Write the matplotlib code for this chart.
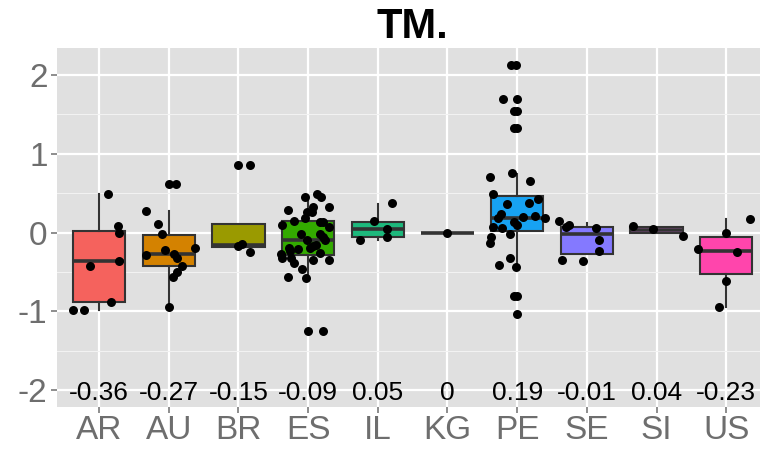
import matplotlib
matplotlib.use("Agg")
import matplotlib.pyplot as plt
from matplotlib.ticker import MultipleLocator

plt.rcParams['font.family'] = ['Liberation Sans', 'DejaVu Sans']

# ---- data ----
categories = ["AR", "AU", "BR", "ES", "IL", "KG", "PE", "SE", "SI", "US"]
median_labels = ["-0.36", "-0.27", "-0.15", "-0.09", "0.05", "0", "0.19", "-0.01", "0.04", "-0.23"]
whislo = [-0.99, -0.95, -0.19, -0.58, -0.097, 0.0, -0.426, -0.27, 0.0, -0.94]
q1     = [-0.886, -0.42, -0.19, -0.287, -0.055, 0.0, 0.021, -0.27, 0.0, -0.53]
med    = [-0.36, -0.274, -0.16, -0.089, 0.046, 0.0, 0.19, -0.013, 0.03, -0.232]
q3     = [0.02, -0.034, 0.11, 0.152, 0.135, 0.0, 0.464, 0.068, 0.072, -0.063]
whishi = [0.485, 0.27, 0.11, 0.46, 0.36, 0.0, 0.747, 0.12, 0.072, 0.17]
colors = ["#F5625D", "#D48200", "#9A9A00", "#33AA00", "#1DB87C", "#00BFC4",
          "#17A2F2", "#8479FF", "#E76BF3", "#FF45AC"]

# jittered points: (horizontal jitter offset, value) per category
pts_AR_off = [0.13, 0.27, 0.29, -0.13, 0.28, 0.17, -0.37, -0.21]
pts_AR_val = [0.49, 0.08, -0.01, -0.42, -0.36, -0.88, -0.99, -0.98]
pts_AU_off = [0.0, 0.10, -0.33, -0.16, -0.10, -0.33, -0.05, 0.07, 0.12, 0.37, 0.19, 0.12, 0.06, 0.0]
pts_AU_val = [0.62, 0.62, 0.27, 0.11, -0.025, -0.29, -0.22, -0.27, -0.32, -0.20, -0.42, -0.50, -0.57, -0.95]
pts_BR_off = [0.0, 0.16, 0.0, 0.05, 0.16]
pts_BR_val = [0.86, 0.86, -0.17, -0.14, -0.25]
pts_ES_off = [-0.05, 0.13, 0.19, 0.07, 0.30, -0.29, -0.02, 0.05, -0.05, -0.21, 0.17, 0.21,
              -0.38, 0.30, -0.10, 0.17, 0.21, 0.24, -0.02, 0.07, 0.02, 0.12, -0.14, -0.27,
              -0.26, -0.39, -0.37, -0.24, 0.17, 0.07, 0.30, -0.20, -0.09, -0.29, -0.03, 0.0, 0.22]
pts_ES_val = [0.45, 0.49, 0.45, 0.325, 0.325, 0.28, 0.26, 0.26, 0.18, 0.15, 0.135, 0.135,
              0.093, 0.07, -0.025, -0.013, -0.063, -0.09, -0.097, -0.17, -0.20, -0.16, -0.21, -0.20,
              -0.23, -0.27, -0.33, -0.32, -0.26, -0.35, -0.35, -0.39, -0.46, -0.56, -0.58, -1.25, -1.25]
pts_IL_off = [0.21, -0.05, 0.13, 0.13, -0.26]
pts_IL_val = [0.37, 0.14, 0.05, -0.055, -0.10]
pts_KG_off = [0.0]
pts_KG_val = [0.0]
pts_PE_off = [-0.09, -0.01, -0.21, 0.0, -0.05, 0.0, -0.05, 0.0, -0.39, -0.08, 0.18, -0.35,
              -0.14, 0.17, 0.30, -0.23, -0.28, 0.08, 0.25, 0.40, -0.34, -0.22, -0.05, 0.0,
              -0.11, -0.38, -0.39, -0.10, -0.26, -0.02, -0.05, 0.0, 0.0]
pts_PE_val = [2.127, 2.127, 1.70, 1.70, 1.54, 1.54, 1.325, 1.325, 0.71, 0.76, 0.65, 0.49,
              0.36, 0.37, 0.43, 0.23, 0.18, 0.20, 0.21, 0.19, 0.07, 0.063, 0.135, 0.093,
              -0.013, -0.055, -0.13, -0.33, -0.41, -0.435, -0.806, -0.806, -1.03]
pts_SE_off = [-0.40, -0.30, -0.26, 0.13, 0.17, 0.17, -0.35, -0.05]
pts_SE_val = [0.14, 0.07, 0.10, 0.063, -0.10, -0.24, -0.35, -0.36]
pts_SI_off = [-0.34, -0.05, 0.38]
pts_SI_val = [0.08, 0.04, -0.046]
pts_US_off = [0.34, 0.0, -0.40, 0.15, 0.0, -0.10]
pts_US_val = [0.173, 0.0, -0.215, -0.25, -0.62, -0.95]

point_offsets = [pts_AR_off, pts_AU_off, pts_BR_off, pts_ES_off, pts_IL_off,
                 pts_KG_off, pts_PE_off, pts_SE_off, pts_SI_off, pts_US_off]
point_values = [pts_AR_val, pts_AU_val, pts_BR_val, pts_ES_val, pts_IL_val,
                pts_KG_val, pts_PE_val, pts_SE_val, pts_SI_val, pts_US_val]

title = "TM."
yticks = [-2, -1, 0, 1, 2]
label_y = -2

# ---- figure ----
fig = plt.figure(figsize=(7.6, 4.51), dpi=100)
ax = fig.add_axes([57.3 / 760, 1 - 406.7 / 451, (768 - 57.3) / 760, (406.7 - 48.3) / 451])
ax.set_facecolor("#E0E0E0")

positions = list(range(1, len(categories) + 1))
stats = []
for i, c in enumerate(categories):
    stats.append(dict(label=c, whislo=whislo[i], q1=q1[i], med=med[i], q3=q3[i],
                      whishi=whishi[i], fliers=[]))

edge = "#333333"
bp = ax.bxp(stats, positions=positions, widths=0.75, patch_artist=True,
            showcaps=False, showfliers=False,
            boxprops=dict(edgecolor=edge, linewidth=1.5),
            medianprops=dict(color=edge, linewidth=2.6, solid_capstyle="butt"),
            whiskerprops=dict(color=edge, linewidth=1.5),
            zorder=3)
for patch, col in zip(bp["boxes"], colors):
    patch.set_facecolor(col)

for i, (offs, vals) in enumerate(zip(point_offsets, point_values)):
    xs = [positions[i] + o for o in offs]
    ax.scatter(xs, vals, s=42, color="black", zorder=5, linewidths=0)

for i, lab in enumerate(median_labels):
    ax.text(positions[i], label_y - 0.125, lab, ha="center", va="baseline", fontsize=19,
            color="black", zorder=6)

ax.set_xlim(0.4, len(categories) + 0.6)
ax.set_ylim(-2.212, 2.339)
ax.set_xticks(positions)
ax.set_xticklabels(categories)
ax.set_yticks(yticks)
ax.set_yticklabels([str(t) for t in yticks])
ax.yaxis.set_minor_locator(MultipleLocator(0.5))

ax.grid(which="major", color="white", linewidth=1.6, zorder=0)
ax.grid(which="minor", axis="y", color="#F2F2F2", linewidth=0.8, zorder=0)
ax.set_axisbelow(True)
for s in ax.spines.values():
    s.set_visible(False)

ax.tick_params(axis="both", which="major", colors="#7A7A7A", labelcolor="#6E6E6E",
               labelsize=24, length=4, width=1.2, pad=3)
ax.tick_params(axis="y", which="minor", length=0)
ax.tick_params(axis="x", pad=2)

fig.text((57.3 + 768) / 2 / 760, 1 - 27 / 451, title, ha="center", va="center",
         fontsize=30, fontweight="bold", color="black")

fig.savefig("out.png", dpi=100)
